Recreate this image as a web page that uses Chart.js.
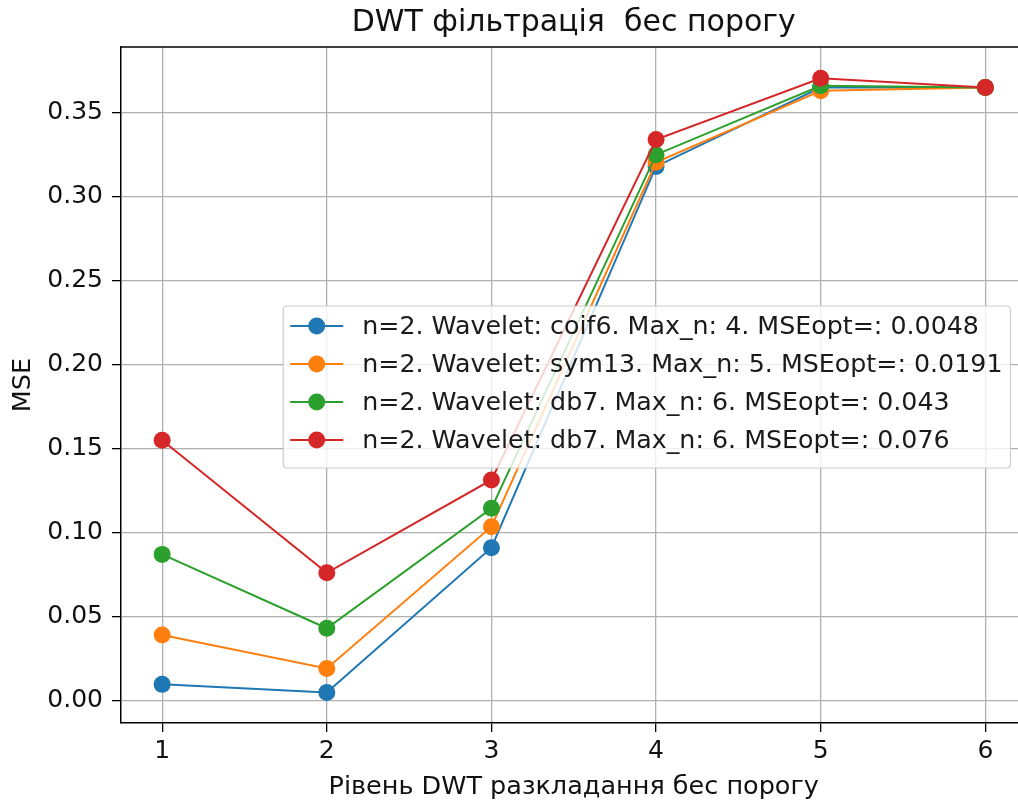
<!DOCTYPE html>
<html>
<head>
<meta charset="utf-8">
<title>DWT фільтрація бес порогу</title>
<script src="https://cdn.jsdelivr.net/npm/chart.js@4.4.1/dist/chart.umd.min.js"></script>
<style>
  html, body { margin: 0; padding: 0; background: #fff; overflow: hidden; }
  #wrap { width: 1035px; height: 807px; }
</style>
</head>
<body>
<div id="wrap"><canvas id="c" width="1035" height="807"></canvas></div>
<script>
// Decomposition levels (x) and MSE per wavelet (y)
const levels = [1, 2, 3, 4, 5, 6];
const mseCoif6 = [0.0096, 0.0048, 0.0910, 0.3180, 0.3650, 0.3650];
const mseSym13 = [0.0390, 0.0191, 0.1035, 0.3205, 0.3630, 0.3650];
const mseDb7a  = [0.0870, 0.0430, 0.1144, 0.3250, 0.3660, 0.3650];
const mseDb7b  = [0.1550, 0.0760, 0.1313, 0.3340, 0.3705, 0.3650];

const seriesLabels = [
  'n=2. Wavelet: coif6. Max_n: 4. MSEopt=: 0.0048',
  'n=2. Wavelet: sym13. Max_n: 5. MSEopt=: 0.0191',
  'n=2. Wavelet: db7. Max_n: 6. MSEopt=: 0.043',
  'n=2. Wavelet: db7. Max_n: 6. MSEopt=: 0.076'
];
const seriesColors = ['#1f77b4', '#ff7f0e', '#2ca02c', '#d62728'];
const seriesValues = [mseCoif6, mseSym13, mseDb7a, mseDb7b];

const xTicks = [1, 2, 3, 4, 5, 6];
const yTicks = [0.00, 0.05, 0.10, 0.15, 0.20, 0.25, 0.30, 0.35];

const titleText = 'DWT фільтрація  бес порогу';
const xTitle = 'Рівень DWT разкладання бес порогу';
const yTitle = 'MSE';

const FONT = "'DejaVu Sans', sans-serif";

const datasets = seriesValues.map((vals, i) => ({
  label: seriesLabels[i],
  data: levels.map((lv, k) => ({ x: lv, y: vals[k] })),
  borderColor: seriesColors[i],
  backgroundColor: seriesColors[i],
  pointBackgroundColor: seriesColors[i],
  pointBorderColor: seriesColors[i],
  pointRadius: 8.5,
  pointBorderWidth: 0,
  borderWidth: 2,
  tension: 0,
  fill: false,
  order: seriesValues.length - i   // later series drawn on top
}));

// Black frame around the plot area (top spine; left/bottom come from the axes)
const framePlugin = {
  id: 'frame',
  afterDatasetsDraw(chart) {
    const { ctx, chartArea: a } = chart;
    ctx.save();
    ctx.strokeStyle = '#000';
    ctx.lineWidth = 1.5;
    ctx.beginPath();
    ctx.moveTo(a.left, a.top);
    ctx.lineTo(a.right, a.top);
    ctx.stroke();
    ctx.restore();
  }
};

// Legend box placed at the centre-right of the plot area
const boxLegendPlugin = {
  id: 'boxLegend',
  afterDraw(chart) {
    const { ctx, chartArea: a } = chart;
    const fontSize = 25.3;
    ctx.save();
    ctx.font = fontSize + 'px ' + FONT;
    let maxW = 0;
    seriesLabels.forEach(t => { maxW = Math.max(maxW, ctx.measureText(t).width); });
    const rowH = 38;
    const padX = 7, handleLen = 53, textGap = 19, padRight = 8, padY = 12;
    const w = padX + handleLen + textGap + maxW + padRight;
    const h = padY * 2 + rowH * seriesLabels.length - 14;
    const right = a.right - 16;
    const left = right - w;
    const top = (a.top + a.bottom) / 2 - h / 2 + 2;

    // box
    const r = 4;
    ctx.beginPath();
    ctx.moveTo(left + r, top);
    ctx.lineTo(left + w - r, top);
    ctx.quadraticCurveTo(left + w, top, left + w, top + r);
    ctx.lineTo(left + w, top + h - r);
    ctx.quadraticCurveTo(left + w, top + h, left + w - r, top + h);
    ctx.lineTo(left + r, top + h);
    ctx.quadraticCurveTo(left, top + h, left, top + h - r);
    ctx.lineTo(left, top + r);
    ctx.quadraticCurveTo(left, top, left + r, top);
    ctx.closePath();
    ctx.fillStyle = 'rgba(255,255,255,0.8)';
    ctx.fill();
    ctx.strokeStyle = '#cccccc';
    ctx.lineWidth = 1.2;
    ctx.stroke();

    seriesLabels.forEach((t, i) => {
      const cy = top + padY + 8 + i * rowH;
      const x0 = left + padX;
      ctx.strokeStyle = seriesColors[i];
      ctx.lineWidth = 2;
      ctx.beginPath();
      ctx.moveTo(x0, cy);
      ctx.lineTo(x0 + handleLen, cy);
      ctx.stroke();
      ctx.fillStyle = seriesColors[i];
      ctx.beginPath();
      ctx.arc(x0 + handleLen / 2, cy, 8.5, 0, Math.PI * 2);
      ctx.fill();
      ctx.fillStyle = '#1a1a1a';
      ctx.textBaseline = 'middle';
      ctx.textAlign = 'left';
      ctx.fillText(t, x0 + handleLen + textGap, cy + 1);
    });
    ctx.restore();
  }
};

new Chart(document.getElementById('c'), {
  type: 'line',
  data: { datasets },
  plugins: [framePlugin, boxLegendPlugin],
  options: {
    responsive: false,
    animation: false,
    layout: { padding: 0 },
    plugins: {
      legend: { display: false },
      tooltip: { enabled: false },
      title: {
        display: true,
        text: titleText,
        fullSize: false,
        color: '#111',
        font: { family: FONT, size: 30, weight: 'normal' },
        padding: { top: 5, bottom: 6 }
      }
    },
    scales: {
      x: {
        type: 'linear',
        min: 0.75,
        max: 6.25,
        afterBuildTicks(scale) { scale.ticks = xTicks.map(v => ({ value: v })); },
        afterFit(scale) { scale.height = 84; },
        ticks: {
          color: '#111',
          font: { family: FONT, size: 25 },
          padding: 4,
          callback: v => String(v)
        },
        grid: { color: '#b0b0b0', lineWidth: 1.3, tickColor: '#000', tickLength: 9, tickWidth: 1.3 },
        border: { color: '#000', width: 1.5 },
        title: {
          display: true,
          text: xTitle,
          color: '#111',
          font: { family: FONT, size: 25.5 },
          padding: { top: 8, bottom: 4 }
        }
      },
      y: {
        type: 'linear',
        min: -0.0134,
        max: 0.3891,
        afterBuildTicks(scale) { scale.ticks = yTicks.map(v => ({ value: v })); },
        afterFit(scale) { scale.width = 121; },
        ticks: {
          color: '#111',
          font: { family: FONT, size: 25 },
          padding: 9,
          callback: v => Number(v).toFixed(2)
        },
        grid: { color: '#b0b0b0', lineWidth: 1.3, tickColor: '#000', tickLength: 9, tickWidth: 1.3 },
        border: { color: '#000', width: 1.5 },
        title: {
          display: true,
          text: yTitle,
          color: '#111',
          font: { family: FONT, size: 25.5 },
          padding: { top: 8, bottom: 0 }
        }
      }
    }
  }
});
</script>
</body>
</html>
